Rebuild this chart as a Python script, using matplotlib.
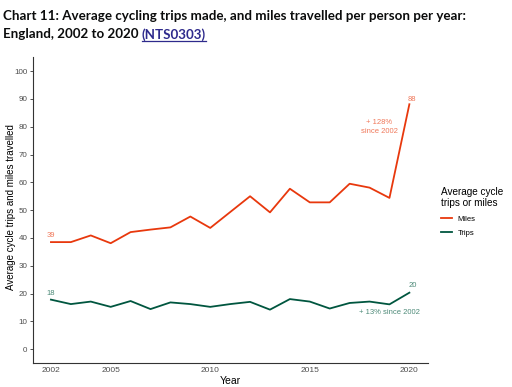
import matplotlib
matplotlib.use('Agg')
import matplotlib.pyplot as plt

years = list(range(2002, 2021))
miles = [38.5, 38.5, 40.9, 38.1, 42.1, 43.0, 43.8, 47.7, 43.6, 49.3,
         55.0, 49.2, 57.7, 52.8, 52.8, 59.5, 58.1, 54.4, 88.1]
trips = [17.8, 16.2, 17.1, 15.2, 17.3, 14.4, 16.8, 16.2, 15.2, 16.2,
         17.0, 14.2, 18.0, 17.1, 14.6, 16.6, 17.1, 16.1, 20.3]
y_ticks = list(range(0, 101, 10))
x_ticks = [2002, 2005, 2010, 2015, 2020]

miles_col = '#e8380d'
trips_col = '#00563f'
miles_txt = '#f0785a'
trips_txt = '#4d8a78'
grey = '#4d4d4d'

plt.rcParams['font.family'] = ['Liberation Sans', 'DejaVu Sans']

fig = plt.figure(figsize=(5.12, 3.87), dpi=100)
ax = fig.add_axes([0.0645, 0.062, 0.772, 0.790])

ax.plot(years, miles, color=miles_col, lw=1.3, label='Miles')
ax.plot(years, trips, color=trips_col, lw=1.3, label='Trips')

ax.set_xlim(2001.1, 2020.95)
ax.set_ylim(-5, 105)
ax.set_xticks(x_ticks)
ax.set_yticks(y_ticks)
ax.tick_params(axis='x', length=0, labelsize=6, labelcolor=grey, pad=3)
ax.tick_params(axis='y', length=2, width=0.6, color='#333333',
               labelsize=5.8, labelcolor=grey, pad=2)
for s in ['top', 'right']:
    ax.spines[s].set_visible(False)
for s in ['left', 'bottom']:
    ax.spines[s].set_linewidth(0.8)
    ax.spines[s].set_color('#333333')

ax.set_xlabel('Year', fontsize=7.5, labelpad=1)
ax.set_ylabel('Average cycle trips and miles travelled', fontsize=7)
ax.yaxis.set_label_coords(-0.042, 0.51)

# value labels
ax.text(years[0], miles[0] + 1.0, '39', color=miles_txt, fontsize=5.5, ha='center', va='bottom')
ax.text(years[-1] + 0.15, miles[-1] + 0.5, '88', color=miles_txt, fontsize=5.5, ha='center', va='bottom')
ax.text(2018.5, 80, '+ 128%\nsince 2002', color=miles_txt, fontsize=5.5, ha='center',
        va='center', linespacing=1.5)
ax.text(years[0], trips[0] + 0.8, '18', color=trips_txt, fontsize=5.5, ha='center', va='bottom')
ax.text(years[-1] + 0.15, trips[-1] + 1.2, '20', color=trips_txt, fontsize=5.5, ha='center', va='bottom')
ax.text(2019.0, 13.0, '+ 13% since 2002', color=trips_txt, fontsize=5.5, ha='center', va='center')

leg = fig.legend(loc='upper left', bbox_to_anchor=(0.848, 0.535), frameon=False,
                 title='Average cycle\ntrips or miles', fontsize=5.5,
                 title_fontsize=7.2, handlelength=1.4, labelspacing=0.9,
                 alignment='left')

# title
t1 = fig.text(0.006, 0.975, 'Chart 11: Average cycling trips made, and miles travelled per person per year:',
              fontsize=9.6, fontweight='bold', family='Lato', va='top', color='#0b0c0c')
t2 = fig.text(0.006, 0.928, 'England, 2002 to 2020 ', fontsize=9.6, fontweight='bold',
              family='Lato', va='top', color='#0b0c0c')
fig.canvas.draw()
bb = t2.get_window_extent()
x_link = bb.x1 / fig.bbox.width
link = fig.text(x_link, 0.928, '(NTS0303)', fontsize=9.6, fontweight='bold',
                family='Lato', va='top', color='#2e2a8c')
fig.canvas.draw()
lb = link.get_window_extent()
y_line = (lb.y0 - 0.5) / fig.bbox.height
fig.add_artist(plt.Line2D([lb.x0 / fig.bbox.width, lb.x1 / fig.bbox.width],
                          [y_line, y_line], color='#2e2a8c', lw=0.9))

fig.savefig('out.png', dpi=100)
